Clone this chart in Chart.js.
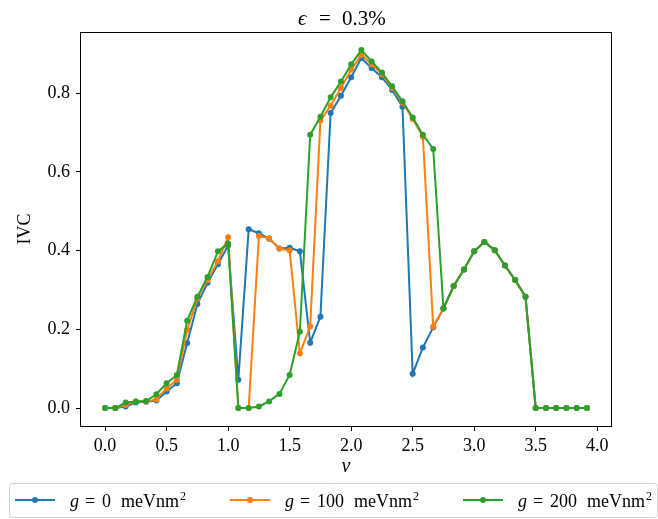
<!DOCTYPE html>
<html>
<head>
<meta charset="utf-8">
<script src="https://cdn.jsdelivr.net/npm/chart.js@4/dist/chart.umd.min.js"></script>
<style>
  html, body { margin: 0; padding: 0; background: #fff; }
</style>
</head>
<body>
<canvas id="myChart" width="658" height="519"></canvas>
<script>
// filling factor nu (x) and IVC for three values of g
const nu = [0.000, 0.083, 0.167, 0.250, 0.333, 0.417, 0.500, 0.583, 0.667, 0.750, 0.833, 0.917,
            1.000, 1.083, 1.167, 1.250, 1.333, 1.417, 1.500, 1.583, 1.667, 1.750, 1.833, 1.917,
            2.000, 2.083, 2.167, 2.250, 2.333, 2.417, 2.500, 2.583, 2.667, 2.750, 2.833, 2.917,
            3.000, 3.083, 3.167, 3.250, 3.333, 3.417, 3.500, 3.583, 3.667, 3.750, 3.833, 3.917];

const ivcG0 = [0, 0, 0.004, 0.014, 0.016, 0.019, 0.042, 0.063, 0.165, 0.264, 0.318, 0.365,
               0.413, 0.072, 0.454, 0.444, 0.430, 0.405, 0.407, 0.398, 0.166, 0.232, 0.749, 0.793,
               0.840, 0.889, 0.863, 0.840, 0.808, 0.765, 0.087, 0.154, 0.205, 0.253, 0.310, 0.352,
               0.398, 0.422, 0.401, 0.362, 0.325, 0.283, 0, 0, 0, 0, 0, 0];

const ivcG100 = [0, 0, 0.008, 0.017, 0.017, 0.022, 0.050, 0.072, 0.198, 0.278, 0.325, 0.373,
                 0.434, 0, 0, 0.437, 0.431, 0.405, 0.400, 0.139, 0.207, 0.730, 0.768, 0.813,
                 0.859, 0.897, 0.873, 0.848, 0.813, 0.776, 0.734, 0.689, 0.207, 0.253, 0.310, 0.352,
                 0.398, 0.422, 0.401, 0.362, 0.325, 0.283, 0, 0, 0, 0, 0, 0];

const ivcG200 = [0, 0, 0.014, 0.017, 0.018, 0.035, 0.063, 0.084, 0.222, 0.283, 0.333, 0.398,
                 0.418, 0, 0, 0.004, 0.017, 0.036, 0.084, 0.194, 0.694, 0.740, 0.789, 0.829,
                 0.873, 0.909, 0.880, 0.852, 0.817, 0.779, 0.738, 0.694, 0.658, 0.253, 0.310, 0.352,
                 0.398, 0.422, 0.401, 0.362, 0.325, 0.283, 0, 0, 0, 0, 0, 0];

const gValues = ["0", "100", "200"];
const colors = ["#1f77b4", "#ff7f0e", "#2ca02c"];
const xTicks = [0.0, 0.5, 1.0, 1.5, 2.0, 2.5, 3.0, 3.5, 4.0];
const yTicks = [0.0, 0.2, 0.4, 0.6, 0.8];

const SERIF = '"Liberation Serif", "DejaVu Serif", serif';

const makeSet = (values, i) => ({
    label: "g = " + gValues[i] + " meVnm²",
    data: nu.map((x, k) => ({x: x, y: values[k]})),
    borderColor: colors[i],
    backgroundColor: colors[i],
    borderWidth: 2,
    pointRadius: 3,
    pointBorderWidth: 0,
    pointHoverRadius: 3,
    tension: 0,
    order: 3 - i
});

// draws a row of text pieces, each with its own font and x position
function drawRuns(ctx, runs, y) {
    runs.forEach(r => {
        ctx.font = r.font;
        ctx.textAlign = r.align || 'left';
        ctx.fillText(r.t, r.x, y - (r.dy || 0));
    });
}

const decorations = {
    id: 'decorations',
    afterDraw(chart) {
        const ctx = chart.ctx;
        const a = chart.chartArea;
        ctx.save();
        // axes frame
        ctx.strokeStyle = '#000';
        ctx.lineWidth = 1;
        ctx.strokeRect(Math.round(a.left) - 0.5, Math.round(a.top) + 0.5,
                       Math.round(a.right - a.left) + 1, Math.round(a.bottom - a.top));
        ctx.fillStyle = '#000';
        ctx.textBaseline = 'alphabetic';

        // title
        drawRuns(ctx, [
            {t: 'ϵ', x: 298, font: 'italic 21px ' + SERIF},
            {t: '=', x: 325, align: 'center', font: '21px ' + SERIF},
            {t: '0.3%', x: 342, font: '21px ' + SERIF}
        ], 25);

        // axis titles
        ctx.font = 'italic 20px ' + SERIF;
        ctx.textAlign = 'center';
        ctx.fillText('ν', (a.left + a.right) / 2, 472);
        ctx.save();
        ctx.translate(30, (a.top + a.bottom) / 2);
        ctx.rotate(-Math.PI / 2);
        ctx.font = '18px ' + SERIF;
        ctx.fillText('IVC', 0, 0);
        ctx.restore();

        // legend box
        ctx.beginPath();
        ctx.roundRect(9.5, 483.5, 648, 34, 3);
        ctx.fillStyle = 'rgba(255,255,255,0.8)';
        ctx.fill();
        ctx.strokeStyle = '#d0d0d0';
        ctx.stroke();

        const lineStarts = [15, 230, 463];
        lineStarts.forEach((lx, i) => {
            ctx.strokeStyle = colors[i];
            ctx.lineWidth = 2;
            ctx.beginPath();
            ctx.moveTo(lx, 500);
            ctx.lineTo(lx + 40, 500);
            ctx.stroke();
            ctx.fillStyle = colors[i];
            ctx.beginPath();
            ctx.arc(lx + 20, 500, 3, 0, Math.PI * 2);
            ctx.fill();

            ctx.fillStyle = '#000';
            const tx = lx + 55;
            ctx.font = '18px ' + SERIF;
            const numW = ctx.measureText(gValues[i]).width;
            const unitX = tx + 32 + numW + 10;
            ctx.font = '18px ' + SERIF;
            const unitW = ctx.measureText('meVnm').width;
            drawRuns(ctx, [
                {t: 'g', x: tx, font: 'italic 18px ' + SERIF},
                {t: '=', x: tx + 20, align: 'center', font: '18px ' + SERIF},
                {t: gValues[i], x: tx + 32, font: '18px ' + SERIF},
                {t: 'meVnm', x: unitX, font: '18px ' + SERIF},
                {t: '2', x: unitX + unitW + 1, dy: 7, font: '12px ' + SERIF}
            ], 507);
        });
        ctx.restore();
    }
};

const ctx = document.getElementById('myChart').getContext('2d');
const chart = new Chart(ctx, {
    type: 'line',
    data: {
        datasets: [makeSet(ivcG0, 0), makeSet(ivcG100, 1), makeSet(ivcG200, 2)]
    },
    options: {
        responsive: false,
        animation: false,
        devicePixelRatio: 1,
        layout: { padding: { top: 32, right: 47, left: 0, bottom: 0 } },
        plugins: {
            legend: { display: false },
            title: { display: false },
            tooltip: { enabled: false }
        },
        scales: {
            x: {
                type: 'linear',
                min: -0.196,
                max: 4.112,
                grid: { drawOnChartArea: false, drawTicks: true, tickLength: 5, color: '#000' },
                border: { display: false },
                ticks: {
                    color: '#000',
                    font: { family: SERIF, size: 18 },
                    padding: 4,
                    maxRotation: 0,
                    autoSkip: false,
                    callback: v => v.toFixed(1)
                },
                afterBuildTicks: s => { s.ticks = xTicks.map(v => ({value: v})); },
                afterFit: s => { s.height = 93; }
            },
            y: {
                min: -0.0455,
                max: 0.955,
                grid: { drawOnChartArea: false, drawTicks: true, tickLength: 5, color: '#000' },
                border: { display: false },
                ticks: {
                    color: '#000',
                    font: { family: SERIF, size: 18 },
                    padding: 6,
                    autoSkip: false,
                    callback: v => v.toFixed(1)
                },
                afterBuildTicks: s => { s.ticks = yTicks.map(v => ({value: v})); },
                afterFit: s => { s.width = 81; }
            }
        }
    },
    plugins: [decorations]
});
</script>
</body>
</html>
